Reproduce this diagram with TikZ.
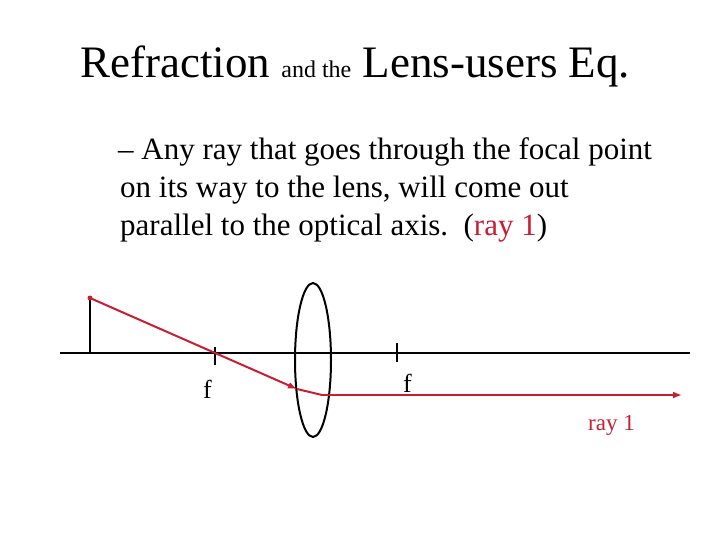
\documentclass[tikz,border=0pt]{standalone}
\usepackage{fontspec}
\setmainfont{Liberation Serif}
\usetikzlibrary{arrows.meta,shapes.geometric}
\definecolor{rayred}{RGB}{200,30,50}
\begin{document}
\begin{tikzpicture}[x=1pt,y=-1pt,
  txt/.style={inner sep=0pt,anchor=base west},
  blk/.style={line width=2pt},
  rayline/.style={rayred,line width=2pt},
  tip/.style={-{Latex[length=9pt,width=7pt]}}]
\useasboundingbox (0,0) rectangle (720,540);
\node[txt] (title) at (80,78) {\fontsize{45}{52}\selectfont Refraction {\fontsize{24}{28}\selectfont and the} Lens-users Eq.};
\node[txt] (l1) at (118,160) {\fontsize{31}{36}\selectfont – Any ray that goes through the focal point};
\node[txt] (l2) at (120,198) {\fontsize{31}{36}\selectfont on its way to the lens, will come out};
\node[txt] (l3) at (120,236) {\fontsize{31}{36}\selectfont parallel to the optical axis.\ \ (\textcolor{rayred}{ray 1})};
\coordinate (ax1) at (60,353); \coordinate (ax2) at (690,353);
\draw[blk] (ax1) -- (ax2);
\coordinate (ob) at (90,353); \coordinate (ot) at (90,298);
\draw[blk] (ob) -- (ot);
\draw[blk] (215,347) -- (215,365);
\draw[blk] (397,343) -- (397,362);
\node[txt] (f1) at (203,398) {\fontsize{26}{30}\selectfont f};
\node[txt] (f2) at (403,392) {\fontsize{26}{30}\selectfont f};
\node[draw,blk,ellipse,minimum width=36pt,minimum height=154pt,inner sep=0pt] (lens) at (313,360) {};
\coordinate (lp) at (322,395); \coordinate (end) at (682,395);
\draw[rayline,tip] (ot) -- (297,389);
\draw[rayline] (297,389) -- (lp);
\draw[rayline,tip] (lp) -- (end);
\fill[rayred] (ot) circle (2.5pt);
\node[txt,rayred] (r1) at (588,430) {\fontsize{23}{27}\selectfont ray 1};
\end{tikzpicture}
\end{document}
